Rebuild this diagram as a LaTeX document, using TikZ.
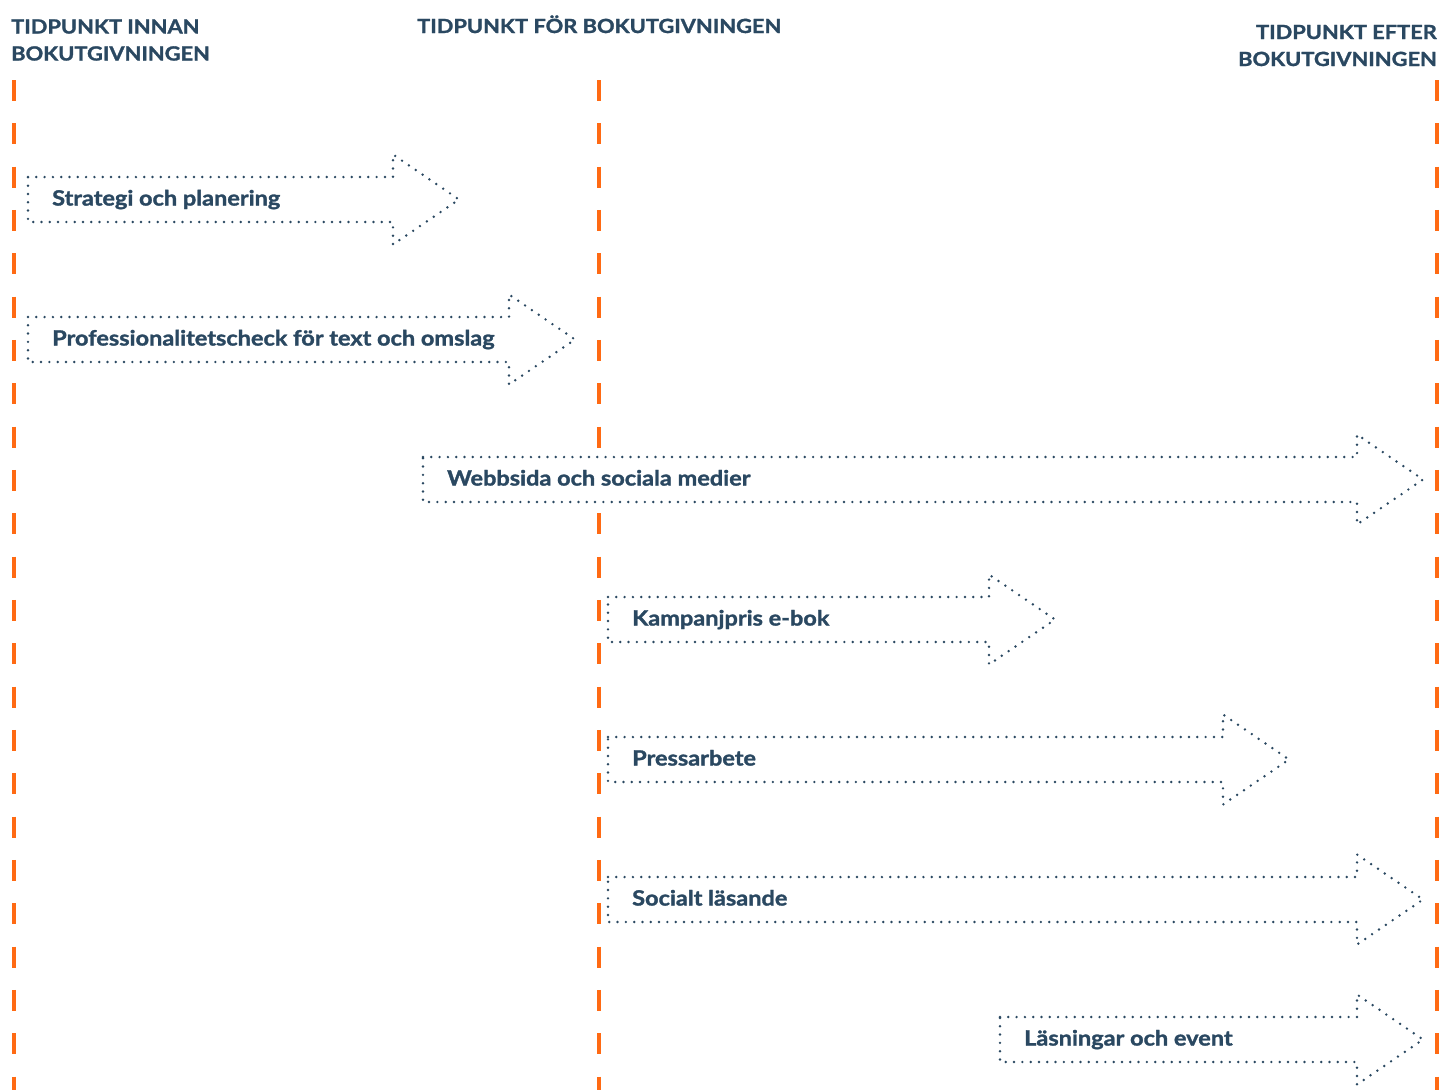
\documentclass[tikz,border=0pt]{standalone}
\usepackage{fontspec}
\setmainfont{Lato}[BoldFeatures={FakeBold=1.4}]
\definecolor{navy}{HTML}{2A4861}
\definecolor{orng}{HTML}{FF6A13}
\newcommand\widetxt[1]{\scalebox{1.12}[1]{#1}}
\begin{document}
\begin{tikzpicture}[x=1pt,y=-1pt,
  timeline/.style={draw=orng, line width=4.8pt, dash pattern=on 21pt off 22.33pt},
  dotbox/.style={draw=navy, line width=2.7pt, line cap=round, dash pattern=on 0pt off 8.3pt, fill=white},
  lbl/.style={text=navy, font=\bfseries\fontsize{21}{25}\selectfont, anchor=base west, inner sep=0pt},
  header/.style={text=navy, font=\bfseries\fontsize{19.5}{27}\selectfont, inner sep=0pt}]
\useasboundingbox (0,0) rectangle (1440,1090);
% headers
\node[header, anchor=base west, align=left] (h1) at (11,60.5) {\widetxt{TIDPUNKT INNAN}\\\widetxt{BOKUTGIVNINGEN}};
\node[header, anchor=base west] (h2) at (417,33) {\widetxt{TIDPUNKT FÖR BOKUTGIVNINGEN}};
\node[header, anchor=base east, align=right] (h3) at (1437,66) {\widetxt{TIDPUNKT EFTER}\\\widetxt{BOKUTGIVNINGEN}};
% timelines
\coordinate (l1t) at (14,80); \coordinate (l1b) at (14,1090);
\coordinate (l2t) at (599,80); \coordinate (l2b) at (599,1090);
\coordinate (l3t) at (1437,80); \coordinate (l3b) at (1437,1090);
\draw[timeline] (l1t) -- (l1b);
\draw[timeline] (l2t) -- (l2b);
\draw[timeline] (l3t) -- (l3b);
% arrows
\newcommand\flowarrow[6]{%
  \draw[dotbox] (#2,#5-22.5) -- (#3,#5-22.5) -- (#3,#5-45) -- (#4,#5) -- (#3,#5+45) -- (#3,#5+22.5) -- (#2,#5+22.5) -- cycle;
  \node[lbl] (#1) at (#2+24,#5+6) {\widetxt{#6}};
}
\flowarrow{a1}{28}{393}{459}{199.5}{Strategi och planering}
\flowarrow{a2}{28}{509}{575}{339.5}{Professionalitetscheck för text och omslag}
\flowarrow{a3}{423}{1357}{1423}{479.5}{Webbsida och sociala medier}
\flowarrow{a4}{608}{989}{1055}{619.5}{Kampanjpris e-bok}
\flowarrow{a5}{608}{1223}{1289}{759.5}{Pressarbete}
\flowarrow{a6}{608}{1357}{1423}{899.5}{Socialt läsande}
\flowarrow{a7}{1000}{1357}{1423}{1039.5}{Läsningar och event}
\end{tikzpicture}
\end{document}
